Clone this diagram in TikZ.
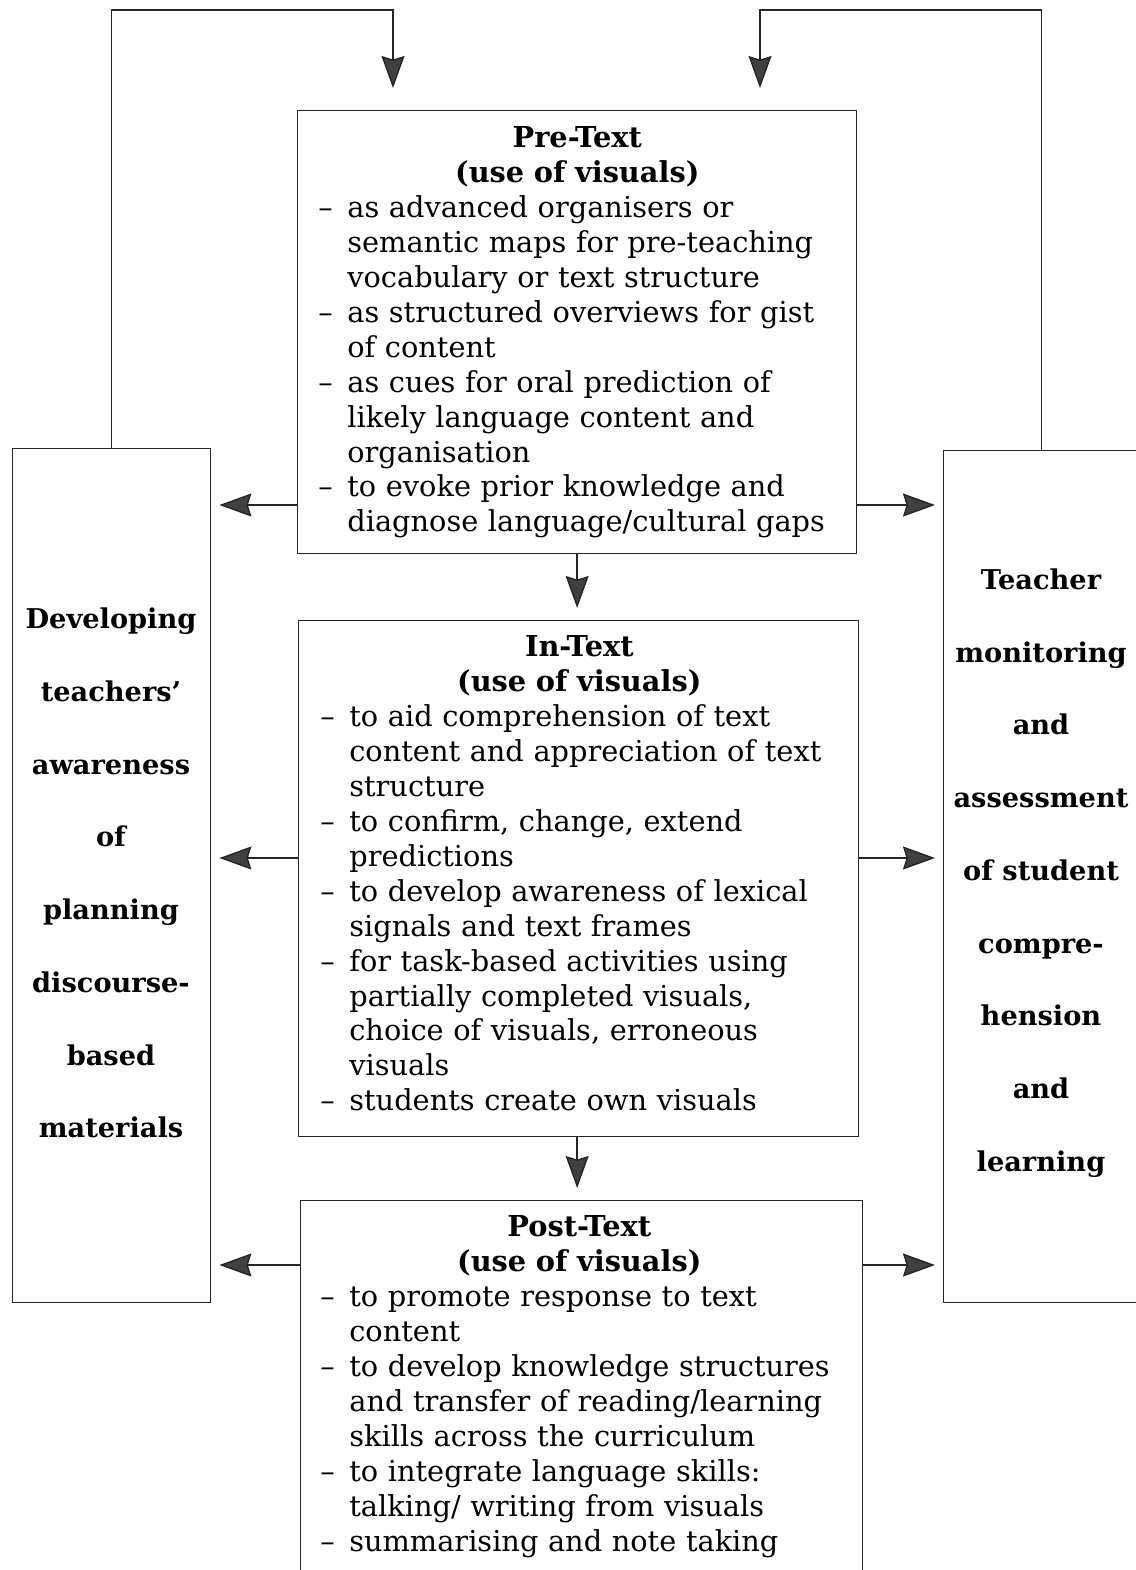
\documentclass[tikz,border=0pt]{standalone}
\usepackage{fontspec}
\setmainfont{DejaVu Serif}
\usetikzlibrary{arrows.meta,positioning}

\newlength{\dashw}\setlength{\dashw}{0.58cm}
\newcommand{\vitem}{\par\noindent\makebox[\dashw][l]{\textendash}}
\newcommand{\vcont}{\par\noindent\hspace*{\dashw}}
\newcommand{\vhead}[1]{{\centering\bfseries #1\par}}

\tikzset{
  frame/.style={draw=black!85, line width=0.8pt, inner sep=0pt, anchor=north west},
  body/.style={anchor=north west, inner sep=0pt, text width=10.36cm, align=left,
    font=\fontsize{16.4}{19.9}\selectfont},
  side/.style={inner sep=0pt, align=center, font=\fontsize{15.5}{41.4}\selectfont\bfseries},
  flow/.style={draw=black!85, line width=0.8pt,
    -{Stealth[length=0.64cm, width=0.46cm, inset=0.07cm, fill=black!75]}}
}

\begin{document}
\begin{tikzpicture}[x=0.02cm, y=-0.02cm]
\useasboundingbox (0,0) rectangle (1136,1570);
\clip (0,0) rectangle (1136,1570);

% boxes
\node[frame, minimum width=11.18cm, minimum height=8.86cm] (pre) at (297,110) {};
\node[frame, minimum width=11.2cm, minimum height=10.32cm] (in) at (298,620) {};
\node[frame, minimum width=11.24cm, minimum height=10cm] (post) at (300,1200) {};
\node[frame, minimum width=3.96cm, minimum height=17.08cm] (dev) at (12,448) {};
\node[frame, minimum width=3.92cm, minimum height=17.04cm] (mon) at (943,450) {};

% texts
\node[body] (pretext) at (318,126) {%
  \vhead{Pre-Text}\vhead{(use of visuals)}%
  \vitem as advanced organisers or
  \vcont semantic maps for pre-teaching
  \vcont vocabulary or text structure
  \vitem as structured overviews for gist
  \vcont of content
  \vitem as cues for oral prediction of
  \vcont likely language content and
  \vcont organisation
  \vitem to evoke prior knowledge and
  \vcont diagnose language/cultural gaps};
\node[body] (intext) at (320,635) {%
  \vhead{In-Text}\vhead{(use of visuals)}%
  \vitem to aid comprehension of text
  \vcont content and appreciation of text
  \vcont structure
  \vitem to confirm, change, extend
  \vcont predictions
  \vitem to develop awareness of lexical
  \vcont signals and text frames
  \vitem for task-based activities using
  \vcont partially completed visuals,
  \vcont choice of visuals, erroneous
  \vcont visuals
  \vitem students create own visuals};
\node[body] (posttext) at (320,1215) {%
  \vhead{Post-Text}\vhead{(use of visuals)}%
  \vitem to promote response to text
  \vcont content
  \vitem to develop knowledge structures
  \vcont and transfer of reading/learning
  \vcont skills across the curriculum
  \vitem to integrate language skills:
  \vcont talking/ writing from visuals
  \vitem summarising and note taking};
\node[side] (devtext) at (111,873) {Developing\\teachers'\\awareness\\of\\planning\\discourse-\\based\\materials};
\node[side] (montext) at (1041,873) {Teacher\\monitoring\\and\\assessment\\of student\\compre-\\hension\\and\\learning};

% connectors
\coordinate (fbL) at (393,110);
\coordinate (fbR) at (760,110);
\draw[flow, shorten >=0.44cm] (dev.north) -- (dev.north |- 0,10) -| (fbL);
\draw[flow, shorten >=0.44cm] (mon.north) -- (mon.north |- 0,10) -| (fbR);
\draw[flow, shorten >=0.24cm] (pre.south) -- (pre.south |- in.north);
\draw[flow, shorten >=0.24cm] (pre.south |- in.south) -- (pre.south |- post.north);
\draw[flow, shorten >=0.16cm] (pre.west |- 0,505) -- (dev.east |- 0,505);
\draw[flow, shorten >=0.16cm] (pre.east |- 0,505) -- (mon.west |- 0,505);
\draw[flow, shorten >=0.16cm] (in.west |- 0,858) -- (dev.east |- 0,858);
\draw[flow, shorten >=0.16cm] (in.east |- 0,858) -- (mon.west |- 0,858);
\draw[flow, shorten >=0.16cm] (post.west |- 0,1265) -- (dev.east |- 0,1265);
\draw[flow, shorten >=0.16cm] (post.east |- 0,1265) -- (mon.west |- 0,1265);
\end{tikzpicture}
\end{document}
